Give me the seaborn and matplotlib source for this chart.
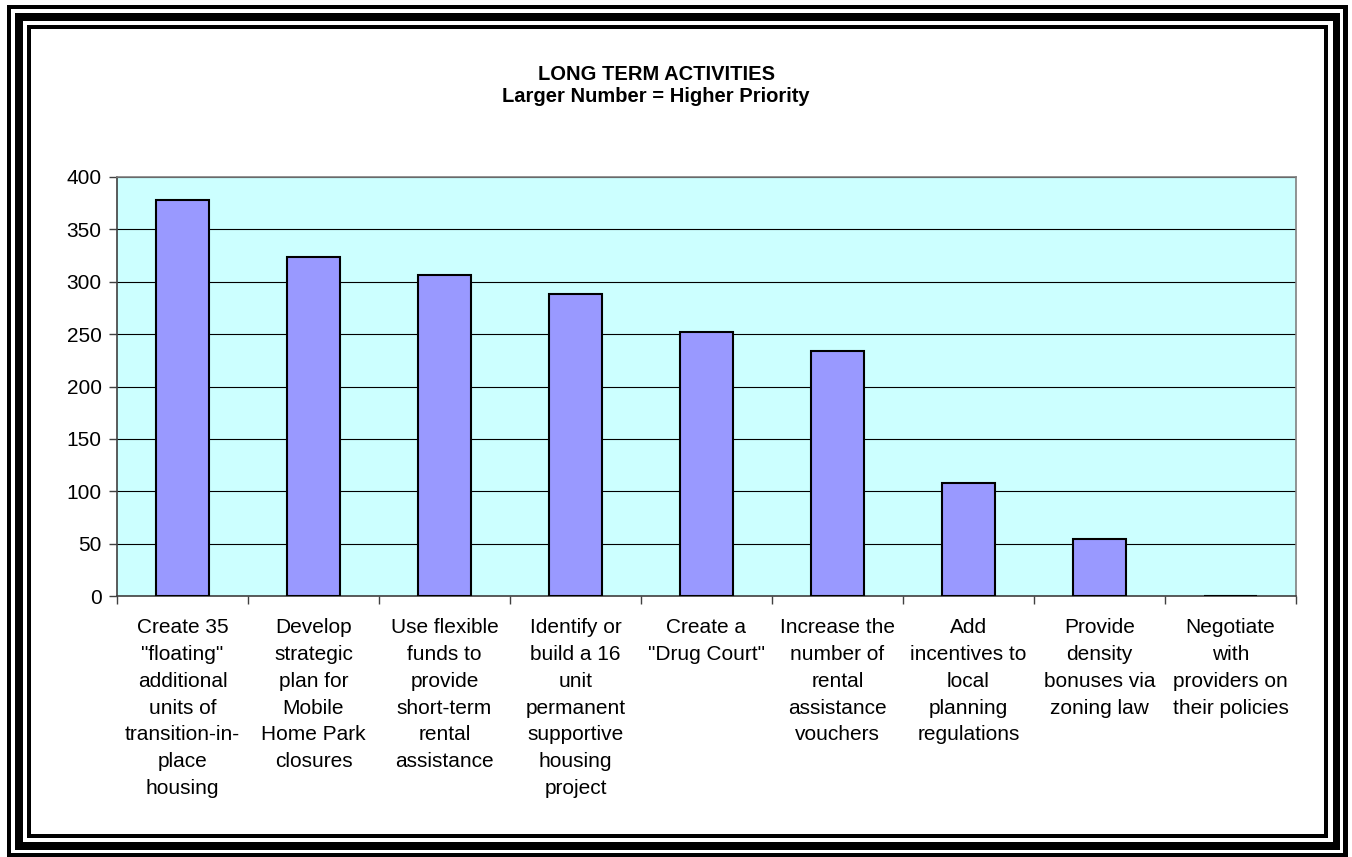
import matplotlib
matplotlib.use("Agg")
import matplotlib.pyplot as plt
import matplotlib.patches as mpatches
import numpy as np
import pandas as pd
import seaborn as sns

# activities (x categories) and their priority scores
activities = [
    "Create 35\n\"floating\"\nadditional\nunits of\ntransition-in-\nplace\nhousing",
    "Develop\nstrategic\nplan for\nMobile\nHome Park\nclosures",
    "Use flexible\nfunds to\nprovide\nshort-term\nrental\nassistance",
    "Identify or\nbuild a 16\nunit\npermanent\nsupportive\nhousing\nproject",
    "Create a\n\"Drug Court\"",
    "Increase the\nnumber of\nrental\nassistance\nvouchers",
    "Add\nincentives to\nlocal\nplanning\nregulations",
    "Provide\ndensity\nbonuses via\nzoning law",
    "Negotiate\nwith\nproviders on\ntheir policies",
]
scores = [378, 324, 306, 288, 252, 234, 108, 54, 0]
y_ticks = [0, 50, 100, 150, 200, 250, 300, 350, 400]

df = pd.DataFrame({"activity": activities, "score": scores})

sns.set_theme(style="white")
plt.rcParams["font.family"] = ["Liberation Sans", "DejaVu Sans"]
plt.rcParams["text.color"] = "black"
plt.rcParams["xtick.color"] = "black"
plt.rcParams["ytick.color"] = "black"

W, H = 1352, 857
fig = plt.figure(figsize=(W / 100, H / 100), dpi=100)
fig.patch.set_facecolor("white")

# triple black frame round the chart (pixel boxes: left, top, right, bottom)
frames = [
    (7, 5, 1348, 857, "black"),
    (11, 9, 1343, 853, "white"),
    (15, 13, 1340, 850, "black"),
    (23, 21, 1333, 842, "white"),
    (27, 25, 1328, 838, "black"),
    (31, 29, 1324, 834, "white"),
]
for l, t, r, b, c in frames:
    fig.patches.append(mpatches.Rectangle(
        (l / W, 1 - b / H), (r - l) / W, (b - t) / H,
        transform=fig.transFigure, facecolor=c, edgecolor="none", zorder=-5))

ax = fig.add_axes([117 / W, 1 - 596 / H, (1296 - 117) / W, (596 - 177) / H])
ax.set_zorder(2)
ax.set_facecolor("#CCFFFF")

sns.barplot(data=df, x="activity", y="score", ax=ax, color="#9999FF",
            saturation=1, width=0.4, edgecolor="black", linewidth=1.5,
            zorder=3)

ax.set_ylim(0, 400)
ax.set_xlim(-0.5, len(activities) - 0.5)
ax.set_yticks(y_ticks)
ax.set_yticklabels([str(v) for v in y_ticks], fontsize=15)
ax.yaxis.grid(True, color="black", linewidth=0.8, zorder=1)
ax.set_axisbelow(True)
ax.set_xlabel("")
ax.set_ylabel("")

# category ticks: labels centred, marks at the boundaries
ax.set_xticks(range(len(activities)))
ax.set_xticklabels(activities, fontsize=15, linespacing=1.52)
ax.set_xticks(np.arange(-0.5, len(activities), 1), minor=True)
ax.tick_params(axis="x", which="major", length=0, pad=16)
ax.tick_params(axis="x", which="minor", length=6, width=1, color="#404040",
               direction="out", bottom=True)
ax.tick_params(axis="y", length=6, width=1, color="#404040", direction="out",
               left=True, pad=5)
for lab in ax.get_xticklabels():
    lab.set_verticalalignment("top")
    lab.set_multialignment("center")

for side in ["left", "right", "top", "bottom"]:
    ax.spines[side].set_visible(True)
    ax.spines[side].set_color("#808080")
    ax.spines[side].set_linewidth(1.2)
ax.spines["left"].set_color("#404040")
ax.spines["bottom"].set_color("#404040")

fig.text(656 / W, 1 - 75 / H, "LONG TERM ACTIVITIES", ha="center",
         va="center", fontsize=14.5, fontweight="bold")
fig.text(656 / W, 1 - 96 / H, "Larger Number = Higher Priority", ha="center",
         va="center", fontsize=14.5, fontweight="bold")

fig.savefig("out.png", dpi=100)
